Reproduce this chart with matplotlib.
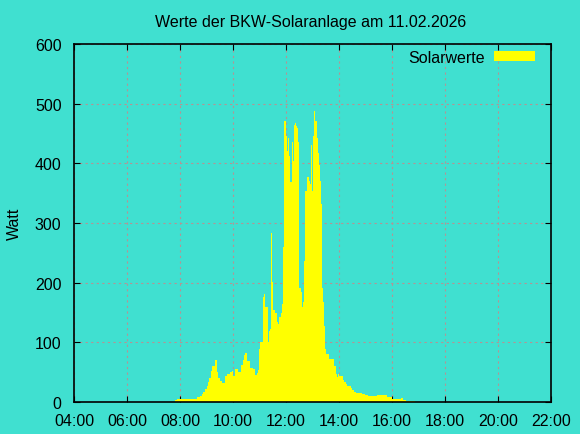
import matplotlib
matplotlib.use("Agg")
import matplotlib.pyplot as plt
import numpy as np

plt.rcParams["font.family"] = ["Liberation Sans", "DejaVu Sans"]

# Messwerte vom 11.02.2026 (Uhrzeit, Leistung in Watt)
zeiten = ["07:49", "07:53", "08:38", "08:45", "08:50", "08:52", "08:57", "09:01",
          "09:03", "09:06", "09:10", "09:12", "09:17", "09:19", "09:24", "09:26",
          "09:31", "09:35", "09:42", "09:46", "09:53", "09:58", "10:00", "10:04",
          "10:11", "10:18", "10:23", "10:25", "10:27", "10:32", "10:38", "10:45",
          "10:50", "10:54", "10:57", "10:59", "11:01", "11:08", "11:10", "11:12",
          "11:19", "11:22", "11:24", "11:26", "11:29", "11:31", "11:35", "11:40",
          "11:42", "11:44", "11:49", "11:51", "11:53", "11:55", "12:00", "12:02",
          "12:05", "12:07", "12:09", "12:14", "12:16", "12:18", "12:20", "12:23",
          "12:25", "12:27", "12:29", "12:34", "12:36", "12:38", "12:41", "12:43",
          "12:48", "12:52", "12:54", "12:57", "12:59", "13:01", "13:03", "13:06",
          "13:10", "13:12", "13:15", "13:17", "13:19", "13:22", "13:24", "13:26",
          "13:28", "13:31", "13:37", "13:49", "13:53", "13:55", "13:58", "14:00",
          "14:09", "14:11", "14:16", "14:18", "14:27", "14:29", "14:34", "14:38",
          "14:52", "14:59", "15:06", "15:26", "15:33", "15:49", "16:00", "16:20",
          "16:25", "16:32", "16:43", "16:52"]
watt = [3, 5, 8, 10, 14, 17, 21, 26,
        33, 41, 52, 60, 60, 70, 51, 41,
        36, 32, 44, 47, 51, 52, 44, 55,
        50, 62, 71, 79, 82, 69, 57, 55,
        45, 49, 54, 88, 100, 176, 181, 159,
        100, 119, 122, 283, 201, 155, 150, 134,
        130, 142, 150, 164, 260, 471, 446, 421,
        442, 413, 369, 436, 404, 464, 467, 463,
        459, 436, 191, 184, 159, 167, 237, 354,
        377, 371, 365, 430, 354, 445, 488, 471,
        443, 418, 398, 371, 332, 191, 167, 128,
        89, 80, 72, 61, 47, 42, 47, 44,
        37, 34, 30, 27, 23, 20, 17, 15,
        13, 12, 10, 11, 12, 8, 5, 6,
        3, 2, 1, 0]

stunden = np.array([int(z[:2]) + int(z[3:]) / 60 for z in zeiten])
werte = np.array(watt)

bg = "#40e0d0"
fs = 11.5
fig = plt.figure(figsize=(5.8, 4.35), dpi=100, facecolor=bg)
ax = fig.add_axes([74 / 580, 32 / 435, 477 / 580, 358 / 435], facecolor=bg)

ax.fill_between(stunden, werte, step="post", color="#ffff00", linewidth=0,
                label="Solarwerte", zorder=2)

ax.set_xlim(4, 22)
ax.set_ylim(0, 600)
xt = np.arange(4, 23, 2)
ax.set_xticks(xt)
ax.set_xticklabels(["%02d:00" % h for h in xt])
ax.set_yticks(np.arange(0, 601, 100))
ax.tick_params(direction="in", length=4, top=True, right=True, labelsize=fs,
               colors="black")
ax.tick_params(axis="x", pad=8)
ax.tick_params(axis="y", pad=9)
ax.grid(True, color="#b49494", linestyle=(0, (2, 3)), linewidth=0.8, zorder=1)
ax.set_axisbelow(True)
for s in ax.spines.values():
    s.set_linewidth(1.2)
    s.set_zorder(3)

ax.set_ylabel("Watt", fontsize=fs, labelpad=9)
fig.suptitle("Werte der BKW-Solaranlage am 11.02.2026", fontsize=fs,
             x=0.535, y=0.965)

leg = ax.legend(loc="upper right", frameon=False, markerfirst=False,
                fontsize=fs, handlelength=2.6, handleheight=0.55,
                bbox_to_anchor=(0.99, 1.015), borderaxespad=0.3,
                handletextpad=0.55)

fig.savefig("out.png", dpi=100, facecolor=bg)
